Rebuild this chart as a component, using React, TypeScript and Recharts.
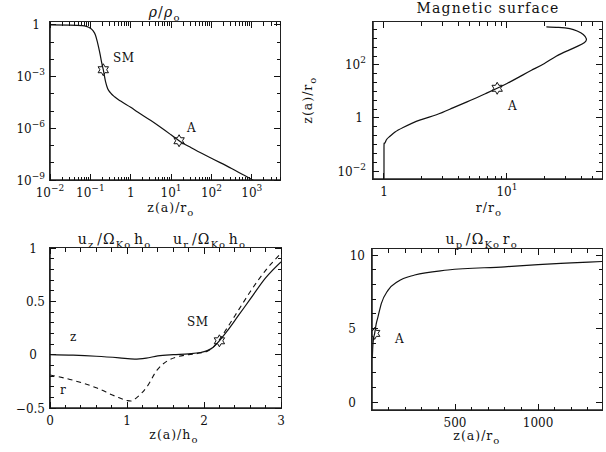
import React from 'react';
import { LineChart, Line, XAxis, YAxis } from 'recharts';

const FONT = '"DejaVu Serif", serif';
const INK = '#111';

// top left: density along the field line
const rhoZ = [0.01, 0.0316, 0.063, 0.079, 0.1, 0.1175, 0.1334, 0.148, 0.162, 0.176, 0.188, 0.209, 0.237, 0.269, 0.316, 0.398, 0.562, 1, 1.48, 3.16, 10, 15.8, 31.6, 100, 316, 562, 1000, 1260];
const rhoVal = [1, 0.977, 0.912, 0.832, 0.646, 0.447, 0.263, 0.112, 0.0447, 0.0178, 0.00759, 0.00251, 5.37e-4, 2.0e-4, 1.15e-4, 6.76e-5, 3.8e-5, 1.66e-5, 8.9e-6, 2.82e-6, 4.17e-7, 1.9e-7, 7.4e-8, 1.82e-8, 4.68e-9, 2.24e-9, 1.07e-9, 7.9e-10];
const rhoMarkZ = [0.209, 15.8]; // SM and A

// top right: magnetic surface r(z)
const surfR = [1, 1, 1.0116, 1.047, 1.112, 1.23, 1.43, 1.95, 2.67, 3.63, 5.01, 6.76, 8.32, 10, 12.6, 15.8, 20, 25.1, 31.6, 38, 42.7, 44.2, 41.7, 37.2, 32.4, 26.3, 20.9];
const surfZ = [0.004, 0.0794, 0.11, 0.151, 0.2, 0.295, 0.437, 0.832, 1.32, 2.4, 4.57, 8.51, 13.2, 20, 35.5, 63.1, 112, 214, 355, 525, 708, 955, 1413, 1905, 2344, 2630, 2754];
const surfMarkR = [8.32]; // A

// bottom left: u_z (solid) and u_r (dashed)
const uzX = [0, 0.3, 0.6, 0.9, 1.1, 1.25, 1.4, 1.6, 1.8, 1.95, 2.05, 2.12, 2.2, 2.3, 2.45, 2.6, 2.8, 3.0];
const uzVal = [0, -0.005, -0.015, -0.03, -0.042, -0.032, -0.012, 0, 0.008, 0.02, 0.04, 0.07, 0.13, 0.22, 0.37, 0.52, 0.72, 0.87];
const urX = [0, 0.3, 0.6, 0.85, 1.0, 1.05, 1.13, 1.26, 1.39, 1.52, 1.65, 1.8, 1.95, 2.05, 2.12, 2.2, 2.3, 2.45, 2.6, 2.8, 3.0];
const urVal = [-0.19, -0.24, -0.31, -0.39, -0.43, -0.435, -0.4, -0.3, -0.145, -0.06, -0.02, 0, 0.015, 0.035, 0.07, 0.14, 0.25, 0.42, 0.59, 0.79, 0.95];
const uMarkX = [2.2]; // SM, on u_z

// bottom right: poloidal speed
const upZ = [2, 4, 8, 16, 25, 36, 56, 96, 156, 257, 457, 800, 1000, 1200, 1385];
const upVal = [3.0, 3.6, 4.2, 4.67, 5.3, 5.8, 6.7, 7.6, 8.2, 8.64, 8.98, 9.2, 9.35, 9.46, 9.56];
const upMarkZ = [16]; // A

// ticks
const p1XMajor = [0.01, 0.1, 1, 10, 100, 1000];
const p1YMajor = [1e-9, 1e-6, 1e-3, 1];
const p1YMinor = [1e-8, 1e-7, 1e-5, 1e-4, 1e-2, 1e-1];
const p2XMajor = [1, 10];
const p2XMinor = [2, 3, 4, 5, 6, 7, 8, 9, 20, 30, 40, 50];
const p2YMajor = [0.01, 1, 100];
const p3XMajor = [0, 1, 2, 3];
const p3YMajor = [-0.5, 0, 0.5, 1];
const p4XMajor = [500, 1000];
const p4YMajor = [0, 5, 10];

const logMinors = (majors: number[], max: number) => {
  const out: number[] = [];
  majors.forEach((d) => {
    for (let k = 2; k <= 9; k++) if (k * d <= max) out.push(+(k * d).toPrecision(6));
  });
  return out;
};
const thirds: number[] = [];
for (let k = -6; k <= 10; k++) thirds.push(+Math.pow(10, k / 3).toPrecision(6));
const steps = (a: number, b: number, s: number) => {
  const out: number[] = [];
  for (let v = a; v <= b + 1e-9; v += s) out.push(Math.round(v * 10) / 10);
  return out;
};

const p1XTicks = [...p1XMajor, ...logMinors(p1XMajor, 5000)];
const p1YTicks = [...p1YMajor, ...p1YMinor];
const p2XTicks = [...p2XMajor, ...p2XMinor];
const p2YTicks = thirds;
const p3XTicks = steps(0, 3, 0.2);
const p3YTicks = steps(-0.5, 1, 0.1);
const p4XTicks = steps(100, 1300, 100);
const p4YTicks = steps(0, 10, 1);

// domains, shared by the charts and by the box drawn around them
const p1XD: [number, number] = [0.01, 5000];
const p1YD: [number, number] = [1e-9, 1.48];
const p2XD: [number, number] = [0.814, 59.2];
const p2YD: [number, number] = [0.005, 4170];
const p3XD: [number, number] = [0, 3];
const p3YD: [number, number] = [-0.5, 1];
const p4XD: [number, number] = [0, 1385];
const p4YD: [number, number] = [-0.54, 10.41];

const near = (a: number, b: number) => a === b || Math.abs(a - b) <= 1e-6 * Math.max(Math.abs(a), Math.abs(b));

const logLabel = (v: number) => {
  const e = Math.round(Math.log10(v));
  if (e === 0) return '1';
  return (
    <>
      <tspan>10</tspan>
      <tspan dy={-6} fontSize={9}>{e < 0 ? '\u2212' + -e : String(e)}</tspan>
    </>
  );
};
const numLabel = (v: number) => (v < 0 ? '\u2212' + Math.abs(v) : String(v));

function xTick(majors: number[], label: (v: number) => React.ReactNode) {
  return (props: any) => {
    const v = props.payload.value as number;
    if (!majors.some((m) => near(m, v))) return <g />;
    return (
      <text x={Number(props.x)} y={Number(props.y) + 17} textAnchor="middle" fontFamily={FONT} fontSize={12} fill={INK}>
        {label(v)}
      </text>
    );
  };
}

function yTick(majors: number[], label: (v: number) => React.ReactNode, dx: (v: number) => number) {
  return (props: any) => {
    const v = props.payload.value as number;
    if (!majors.some((m) => near(m, v))) return <g />;
    return (
      <text x={Number(props.x) - dx(v)} y={Number(props.y) + 4.5} textAnchor="end" fontFamily={FONT} fontSize={12} fill={INK}>
        {label(v)}
      </text>
    );
  };
}

const Star = (props: any) => {
  const { cx, cy, value } = props;
  if (cx == null || cy == null || value == null || Number.isNaN(cy)) return <g />;
  const pts: string[] = [];
  for (let i = 0; i < 12; i++) {
    const r = i % 2 === 0 ? 6 : 3.4;
    const a = (i * Math.PI) / 6;
    pts.push(`${cx + r * Math.sin(a)},${cy - r * Math.cos(a)}`);
  }
  return <polygon points={pts.join(' ')} fill="none" stroke={INK} strokeWidth={1} />;
};

const AXIS = { stroke: '#222', strokeWidth: 1.6 };
const common = { type: 'number' as const, allowDataOverflow: true, interval: 0 as const, tickSize: 0, tickMargin: 0, tickLine: false, axisLine: AXIS };

function DensityPanel() {
  const data = rhoZ.map((z, i) => ({ z, rho: rhoVal[i], mark: rhoMarkZ.includes(z) ? rhoVal[i] : null }));
  return (
    <LineChart width={303} height={226} data={data} margin={{ top: 22, right: 23, bottom: 0, left: 0 }}>
      <XAxis dataKey="z" {...common} scale="log" domain={p1XD} ticks={p1XTicks} height={46} tick={xTick(p1XMajor, logLabel)} />
      <YAxis {...common} scale="log" domain={p1YD} ticks={p1YTicks} width={50} tick={yTick(p1YMajor, logLabel, (v) => (v === 1 ? 10 : 5))} />
      <Line dataKey="rho" type="monotone" stroke={INK} strokeWidth={1.2} dot={false} isAnimationActive={false} />
      <Line dataKey="mark" stroke="none" dot={<Star />} isAnimationActive={false} />
    </LineChart>
  );
}

function SurfacePanel() {
  const data = surfR.map((r, i) => ({ r, z: surfZ[i], mark: surfMarkR.includes(r) ? surfZ[i] : null }));
  return (
    <LineChart width={303} height={226} data={data} margin={{ top: 22, right: 4, bottom: 0, left: 0 }}>
      <XAxis dataKey="r" {...common} scale="log" domain={p2XD} ticks={p2XTicks} height={47} tick={xTick(p2XMajor, logLabel)} />
      <YAxis {...common} scale="log" domain={p2YD} ticks={p2YTicks} width={70} tick={yTick(p2YMajor, logLabel, (v) => (v === 1 ? 10 : 7))} />
      <Line dataKey="z" type="natural" stroke={INK} strokeWidth={1.2} dot={false} isAnimationActive={false} />
      <Line dataKey="mark" stroke="none" dot={<Star />} isAnimationActive={false} />
    </LineChart>
  );
}

function VelocityPanel() {
  const xs = Array.from(new Set([...uzX, ...urX])).sort((a, b) => a - b);
  const data = xs.map((x) => {
    const i = uzX.indexOf(x);
    const j = urX.indexOf(x);
    return {
      x,
      uz: i >= 0 ? uzVal[i] : null,
      ur: j >= 0 ? urVal[j] : null,
      mark: uMarkX.includes(x) && i >= 0 ? uzVal[i] : null,
    };
  });
  return (
    <LineChart width={303} height={226} data={data} margin={{ top: 22, right: 22, bottom: 0, left: 0 }}>
      <XAxis dataKey="x" {...common} domain={p3XD} ticks={p3XTicks} height={44} tick={xTick(p3XMajor, numLabel)} />
      <YAxis {...common} domain={p3YD} ticks={p3YTicks} width={50} tick={yTick(p3YMajor, numLabel, (v) => (Number.isInteger(v) ? 13 : 5))} />
      <Line dataKey="uz" type="monotone" connectNulls stroke={INK} strokeWidth={1.2} dot={false} isAnimationActive={false} />
      <Line dataKey="ur" type="monotone" connectNulls stroke={INK} strokeWidth={1.1} strokeDasharray="5 4" dot={false} isAnimationActive={false} />
      <Line dataKey="mark" stroke="none" dot={<Star />} isAnimationActive={false} />
    </LineChart>
  );
}

function SpeedPanel() {
  const data = upZ.map((z, i) => ({ z, up: upVal[i], mark: upMarkZ.includes(z) ? upVal[i] : null }));
  return (
    <LineChart width={303} height={226} data={data} margin={{ top: 23, right: 4, bottom: 0, left: 0 }}>
      <XAxis dataKey="z" {...common} domain={p4XD} ticks={p4XTicks} height={42} tick={xTick(p4XMajor, numLabel)} />
      <YAxis {...common} domain={p4YD} ticks={p4YTicks} width={69} tick={yTick(p4YMajor, numLabel, (v) => (v === 10 ? 7 : 16))} />
      <Line dataKey="up" type="monotone" stroke={INK} strokeWidth={1.2} dot={false} isAnimationActive={false} />
      <Line dataKey="mark" stroke="none" dot={<Star />} isAnimationActive={false} />
    </LineChart>
  );
}

// box with inward ticks on all four sides, laid over each chart's plot area
type Box = { x0: number; x1: number; y0: number; y1: number };
type BoxProps = { b: Box; xd: [number, number]; yd: [number, number]; log: boolean; xt: number[]; xm: number[]; yt: number[]; ym: number[] };

const toPx = (d: [number, number], p0: number, p1: number, log: boolean) => (v: number) => {
  const f = log ? (Math.log10(v) - Math.log10(d[0])) / (Math.log10(d[1]) - Math.log10(d[0])) : (v - d[0]) / (d[1] - d[0]);
  return p0 + f * (p1 - p0);
};

function HtmlBox({ b, xd, yd, log, xt, xm, yt, ym }: BoxProps) {
  const fx = toPx(xd, b.x0, b.x1, log);
  const fy = toPx(yd, b.y1, b.y0, log);
  const items: React.ReactNode[] = [];
  xt.forEach((v, i) => {
    const x = fx(v);
    const len = xm.some((m) => near(m, v)) ? 6 : 3.5;
    items.push(<div key={`xb${i}`} style={{ position: 'absolute', left: x - 0.5, top: b.y1 - len, width: 1, height: len, background: INK }} />);
    items.push(<div key={`xt${i}`} style={{ position: 'absolute', left: x - 0.5, top: b.y0, width: 1, height: len, background: INK }} />);
  });
  yt.forEach((v, i) => {
    const y = fy(v);
    const len = ym.some((m) => near(m, v)) ? 6 : 3.5;
    items.push(<div key={`yl${i}`} style={{ position: 'absolute', left: b.x0, top: y - 0.5, width: len, height: 1, background: INK }} />);
    items.push(<div key={`yr${i}`} style={{ position: 'absolute', left: b.x1 - len, top: y - 0.5, width: len, height: 1, background: INK }} />);
  });
  return (
    <>
      <div
        style={{
          position: 'absolute',
          left: b.x0 - 0.8,
          top: b.y0 - 0.8,
          width: b.x1 - b.x0 + 1.6,
          height: b.y1 - b.y0 + 1.6,
          border: '1.6px solid #222',
          boxSizing: 'border-box',
          pointerEvents: 'none',
        }}
      />
      {items}
    </>
  );
}

const Sub = ({ children }: { children: React.ReactNode }) => (
  <>
    <tspan dy={4} fontSize={10}>{children}</tspan>
    <tspan dy={-4}>{'\u200a'}</tspan>
  </>
);

const boxes: BoxProps[] = [
  { b: { x0: 50, x1: 280, y0: 22, y1: 180 }, xd: p1XD, yd: p1YD, log: true, xt: p1XTicks, xm: p1XMajor, yt: p1YTicks, ym: p1YMajor },
  { b: { x0: 373, x1: 602, y0: 22, y1: 179 }, xd: p2XD, yd: p2YD, log: true, xt: p2XTicks, xm: p2XMajor, yt: p2YTicks, ym: p2YMajor },
  { b: { x0: 50, x1: 281, y0: 248, y1: 408 }, xd: p3XD, yd: p3YD, log: false, xt: p3XTicks, xm: p3XMajor, yt: p3YTicks, ym: p3YMajor },
  { b: { x0: 372, x1: 602, y0: 249, y1: 410 }, xd: p4XD, yd: p4YD, log: false, xt: p4XTicks, xm: p4XMajor, yt: p4YTicks, ym: p4YMajor },
];

export default function App() {
  const t = { fontFamily: FONT, fontSize: 14, fill: INK, letterSpacing: 1.2 };
  return (
    <div style={{ position: 'absolute', left: 0, top: 0, width: 606, height: 452, background: '#fff' }}>
      <div style={{ position: 'absolute', left: 0, top: 0 }}><DensityPanel /></div>
      <div style={{ position: 'absolute', left: 303, top: 0 }}><SurfacePanel /></div>
      <div style={{ position: 'absolute', left: 0, top: 226 }}><VelocityPanel /></div>
      <div style={{ position: 'absolute', left: 303, top: 226 }}><SpeedPanel /></div>
      {boxes.map((p, i) => (
        <HtmlBox key={i} {...p} />
      ))}
      <svg width={606} height={452} style={{ position: 'absolute', left: 0, top: 0, pointerEvents: 'none' }}>
        <g {...t}>
          <text x={166} y={17} textAnchor="middle"><tspan fontStyle="italic">ρ</tspan>/<tspan fontStyle="italic">ρ</tspan><Sub>o</Sub></text>
          <text x={488} y={13} textAnchor="middle">Magnetic surface</text>
          <text x={116} y={244} textAnchor="middle">u<Sub>z</Sub>/Ω<Sub>Ko</Sub>h<Sub>o</Sub></text>
          <text x={211} y={244} textAnchor="middle">u<Sub>r</Sub>/Ω<Sub>Ko</Sub>h<Sub>o</Sub></text>
          <text x={483} y={244} textAnchor="middle">u<Sub>p</Sub>/Ω<Sub>Ko</Sub>r<Sub>o</Sub></text>
        </g>
        <g {...t} fontSize={12.5} letterSpacing={1}>
          <text x={172} y={212} textAnchor="middle">z(a)/r<Sub>o</Sub></text>
          <text x={490} y={212} textAnchor="middle">r/r<Sub>o</Sub></text>
          <text x={175} y={439} textAnchor="middle">z(a)/h<Sub>o</Sub></text>
          <text x={478} y={440} textAnchor="middle">z(a)/r<Sub>o</Sub></text>
          <text x={312} y={99} textAnchor="middle" transform="rotate(-90 312 99)">z(a)/r<Sub>o</Sub></text>
        </g>
        <g {...t} fontSize={12} letterSpacing={0.5}>
          <text x={113} y={62}>SM</text>
          <text x={187} y={132}>A</text>
          <text x={508} y={110}>A</text>
          <text x={70} y={341}>z</text>
          <text x={60} y={394}>r</text>
          <text x={187} y={326}>SM</text>
          <text x={395} y={343}>A</text>
        </g>
      </svg>
    </div>
  );
}
